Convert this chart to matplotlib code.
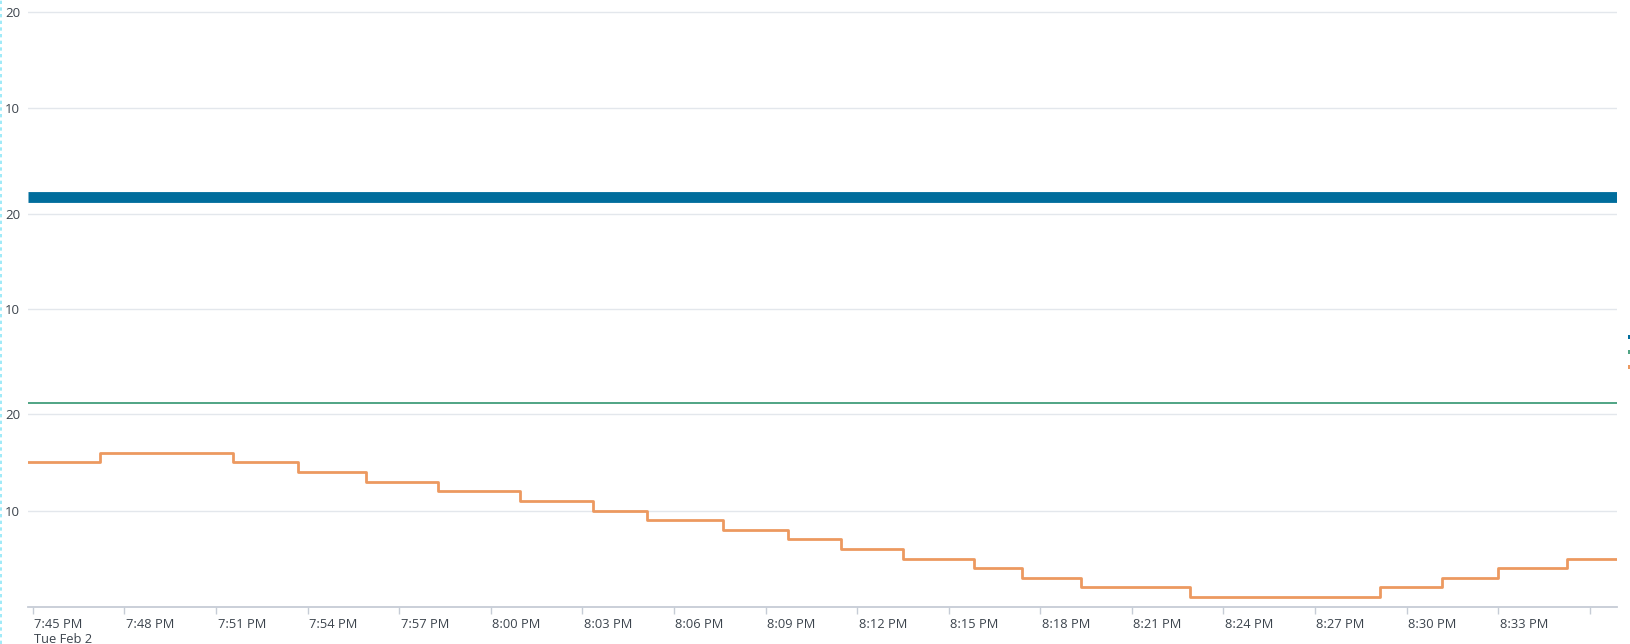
import numpy as np
import pandas as pd
import matplotlib
matplotlib.use('Agg')
import matplotlib.pyplot as plt
from matplotlib.patches import Rectangle
from matplotlib.lines import Line2D
from matplotlib.transforms import ScaledTranslation

plt.rcParams['font.family'] = ['Open Sans', 'DejaVu Sans']

# ------------------------------------------
# data
# ------------------------------------------
day = '2021-02-02 '
x_start = pd.Timestamp(day + '19:44:51')
x_end = pd.Timestamp(day + '20:36:53')

# panel 1: dense blue series, sits just above zero
blue_times = [day + '19:44:51', day + '20:36:53']
blue_values = [0.76, 0.76]

# panel 2: flat green series
green_times = [day + '19:44:51', day + '20:36:53']
green_values = [0.1, 0.1]

# panel 3: orange step series (time of each change, new level)
orange_times = ['19:44:51', '19:47:12', '19:51:34', '19:53:42', '19:55:55',
                '19:58:17', '20:00:58', '20:03:20', '20:05:07', '20:07:36',
                '20:09:44', '20:11:29', '20:13:30', '20:15:50', '20:17:25',
                '20:19:20', '20:22:55', '20:29:08', '20:31:09', '20:33:00',
                '20:35:16', '20:36:53']
orange_values = [15, 16, 15, 14, 13, 12, 11, 10, 9, 8, 7, 6, 5, 4, 3, 2, 1,
                 2, 3, 4, 5, 5]

y_ticks = [10, 20]
tick_times = pd.date_range(day + '19:45', day + '20:36', freq='3min')
tick_labels = [t.strftime('%-I:%M %p') for t in tick_times]
tick_labels[0] = tick_labels[0] + '\nTue Feb 2'
tick_labels[-1] = ''

blue = '#006D9C'
green = '#4FA484'
orange = '#EC9960'
grid_col = '#e3e7ec'
axis_col = '#c6ccd6'
text_col = '#3c444d'

# ------------------------------------------
# figure layout (pixel based)
# ------------------------------------------
W, H = 1631, 644
fig = plt.figure(figsize=(W / 100, H / 100), dpi=100)

left_px, right_px = 28.3, 1616.7
panels_px = [(2.2, 204.3), (204.3, 404.3), (404.3, 606.7)]  # (top, bottom)

axes = []
for top, bottom in panels_px:
    ax = fig.add_axes([left_px / W, (H - bottom) / H,
                       (right_px - left_px) / W, (bottom - top) / H])
    ax.set_xlim(x_start, x_end)
    ax.set_ylim(0, 21.05)
    ax.set_yticks(y_ticks)
    ax.tick_params(axis='y', length=0, pad=6, labelsize=9.5, labelcolor=text_col)
    ax.grid(axis='y', color=grid_col, linewidth=1.0)
    ax.set_axisbelow(True)
    for s in ['top', 'right', 'left', 'bottom']:
        ax.spines[s].set_visible(False)
    ax.patch.set_alpha(0)
    axes.append(ax)

ax1, ax2, ax3 = axes

ax1.plot(pd.to_datetime(blue_times), blue_values, color=blue, linewidth=7.8,
         solid_capstyle='butt')
ax2.plot(pd.to_datetime(green_times), green_values, color=green, linewidth=1.4)
ax3.plot(pd.to_datetime([day + t for t in orange_times]), orange_values,
         color=orange, linewidth=2.0, drawstyle='steps-post')

for ax in (ax1, ax2):
    ax.set_xticks([])

ax3.spines['bottom'].set_visible(True)
ax3.spines['bottom'].set_color(axis_col)
ax3.spines['bottom'].set_linewidth(1.3)
ax3.set_xticks(tick_times)
ax3.set_xticklabels(tick_labels, ha='left', multialignment='left',
                    linespacing=1.2)
ax3.tick_params(axis='x', length=4.8, width=1.0, color=axis_col, pad=3,
                labelsize=9.3, labelcolor=text_col)
# nudge labels a little to the right of their tick
for lbl in ax3.get_xticklabels():
    lbl.set_transform(lbl.get_transform() +
                      ScaledTranslation(1.5 / 100, 0, fig.dpi_scale_trans))

# cut-off legend chips at the right edge
for yy, col in zip([337.3, 352.3, 367.3], [blue, green, orange]):
    fig.add_artist(Rectangle(((W - 2.5) / W, (H - yy - 2) / H), 4 / W, 4 / H,
                             transform=fig.transFigure, color=col, lw=0))

# dotted focus outline on the left edge
fig.add_artist(Line2D([0.8 / W, 0.8 / W], [0, 1], transform=fig.transFigure,
                      color='#8ee6f7', linewidth=1.2, linestyle=(0, (2, 2))))

fig.savefig('out.png', dpi=100)
